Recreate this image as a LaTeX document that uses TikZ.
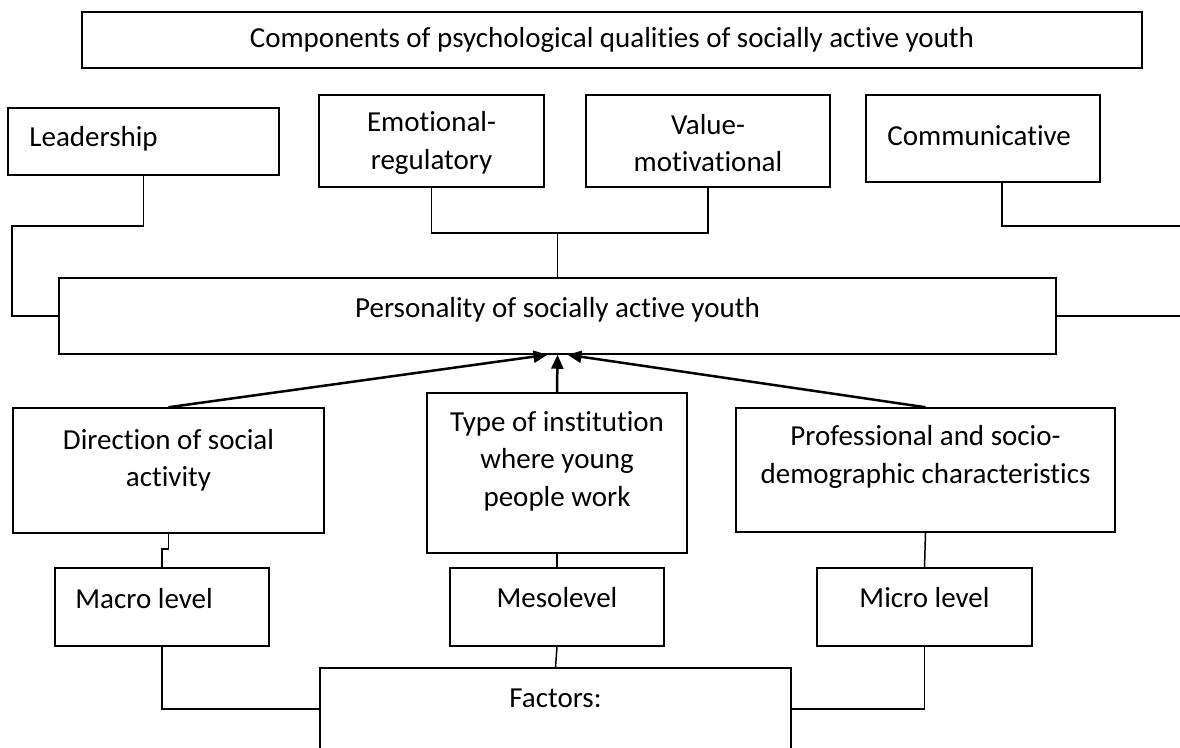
\documentclass[tikz,border=0pt]{standalone}
\usepackage{fontspec}
\setmainfont{Carlito}[Ligatures=NoCommon]
\usetikzlibrary{arrows.meta}

\tikzset{
  box/.style={draw, line width=1.5pt, inner sep=0pt},
  txt/.style={inner sep=0pt, align=center, font=\fontsize{29}{37.5}\selectfont},
  link/.style={line width=1.5pt},
  arr/.style={line width=2.5pt, -{Triangle[length=14pt,width=12pt]}}
}

\begin{document}
\begin{tikzpicture}[x=1pt, y=-1pt]
\useasboundingbox (0,0) rectangle (1180,747);
\clip (0,0) rectangle (1180,747);

% components
\node (T) [box, minimum width=1060pt, minimum height=56pt,
  label={[txt]center:Components of psychological qualities of socially active youth}] at (612,40) {};
\node (L) [box, minimum width=271pt, minimum height=67pt,
  label={[txt, anchor=west, xshift=22pt, yshift=3pt]west:Leadership}] at (143.5,141.5) {};
\node (E) [box, minimum width=225pt, minimum height=92pt,
  label={[txt, yshift=-2pt]center:Emotional-\\regulatory}] at (431.5,141) {};
\node (V) [box, minimum width=244pt, minimum height=92pt,
  label={[txt, yshift=-2pt]center:Value-\\motivational}] at (708,141) {};
\node (C) [box, minimum width=234pt, minimum height=87pt,
  label={[txt, anchor=west, xshift=22pt, yshift=3pt]west:Communicative}] at (983,138.5) {};

% personality
\node (P) [box, minimum width=997pt, minimum height=76pt,
  label={[txt, yshift=6pt]center:Personality of socially active youth}] at (557.5,316) {};

% factors
\node (D) [box, minimum width=311pt, minimum height=125pt,
  label={[txt, yshift=10pt]center:Direction of social\\activity}] at (168.5,470.5) {};
\node (I) [box, minimum width=260pt, minimum height=160pt,
  label={[txt, yshift=12pt]center:Type of institution\\where young\\people work}] at (557,473) {};
\node (S) [box, minimum width=379pt, minimum height=124pt,
  label={[txt, yshift=13pt]center:Professional and socio-\\demographic characteristics}] at (925.5,470) {};

\node (Ma) [box, minimum width=214pt, minimum height=78pt,
  label={[txt, anchor=west, xshift=21pt, yshift=8pt]west:Macro level}] at (162,607) {};
\node (Me) [box, minimum width=214pt, minimum height=78pt,
  label={[txt, yshift=9pt]center:Mesolevel}] at (557,607) {};
\node (Mi) [box, minimum width=215pt, minimum height=78pt,
  label={[txt, yshift=9pt]center:Micro level}] at (924.5,607) {};
\node (F) [box, minimum width=471pt, minimum height=82pt,
  label={[txt, yshift=11pt]center:{Factors:}}] at (555.5,709) {};

\coordinate (j) at (557.5,233);

\draw[link] (L.south) |- (12,226) |- (P.west);
\draw[link] ([xshift=19pt]C.south) |- (1195,226) |- (P.east);
\draw[link] (E.south) |- (j) -| (V.south);
\draw[link] (j) -- (P.north);

\draw[arr] (D.north) -- ([xshift=-10pt]P.south);
\draw[arr] (I.north) -- (P.south);
\draw[arr] (S.north) -- ([xshift=10pt]P.south);

\draw[link] (D.south) -- ++(0,15) -| (Ma.north);
\draw[link] (I.south) -- (Me.north);
\draw[link] (S.south) -- (Mi.north);
\draw[link] (Ma.south) |- (F.west);
\draw[link] (Me.south) -- (F.north);
\draw[link] (Mi.south) |- (F.east);
\end{tikzpicture}
\end{document}
